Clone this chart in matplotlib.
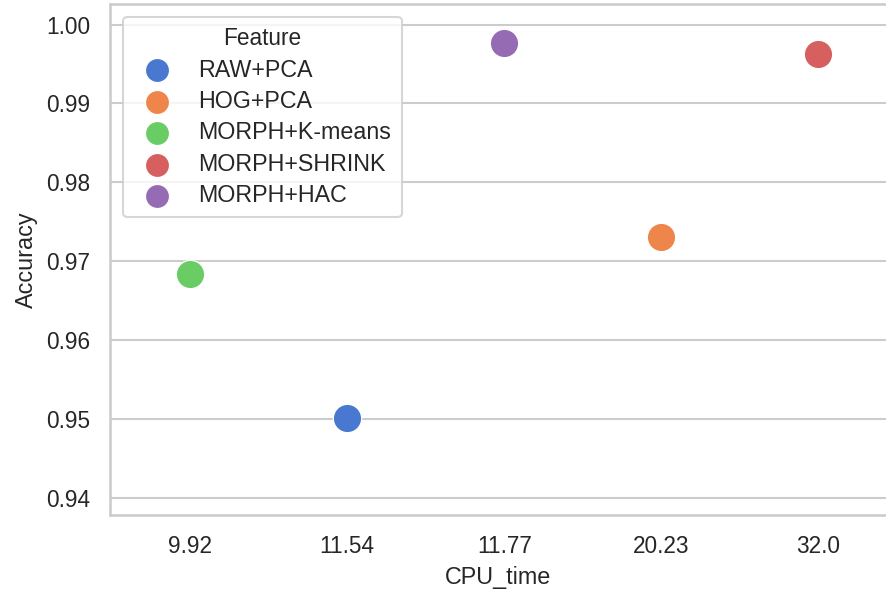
import matplotlib
matplotlib.use("Agg")
import matplotlib.pyplot as plt
import seaborn as sns

# Data
cpu_times = ["9.92", "11.54", "11.77", "20.23", "32.0"]
features = ["RAW+PCA", "HOG+PCA", "MORPH+K-means", "MORPH+SHRINK", "MORPH+HAC"]
feature_cpu = ["11.54", "20.23", "9.92", "32.0", "11.77"]
accuracy = [0.9501, 0.9730, 0.96835, 0.9962, 0.9977]

sns.set_theme(style="whitegrid", context="notebook")
plt.rcParams['font.family'] = ['Liberation Sans', 'DejaVu Sans']

colors = sns.color_palette("muted", len(features))

DPI = 148
fig = plt.figure(figsize=(886 / DPI, 596 / DPI), dpi=DPI)
ax = fig.add_axes([110 / 886, 81 / 596, 1 - 110 / 886, 511 / 596])

for name, cpu, acc, col in zip(features, feature_cpu, accuracy, colors):
    ax.scatter(cpu_times.index(cpu), acc, s=190, color=col, label=name,
               edgecolor="white", linewidth=0.6, zorder=3)

ax.set_xticks(range(len(cpu_times)))
ax.set_xticklabels(cpu_times)
ax.set_xlim(-0.51, 4.43)
ax.set_ylim(0.9378, 1.0026)
ax.set_yticks([0.94, 0.95, 0.96, 0.97, 0.98, 0.99, 1.00])
ax.tick_params(labelsize=11)
ax.grid(axis="x", visible=False)
ax.spines["right"].set_visible(False)

ax.set_xlabel("CPU_time", fontsize=11.4)
ax.set_ylabel("Accuracy", fontsize=11.4)

leg = ax.legend(title="Feature", loc="upper left", markerscale=0.85,
                bbox_to_anchor=(0.0168, 0.975), borderaxespad=0,
                fontsize=11.3, title_fontsize=11, labelspacing=0.36,
                borderpad=0.45)

fig.savefig("out.png", dpi=DPI)
